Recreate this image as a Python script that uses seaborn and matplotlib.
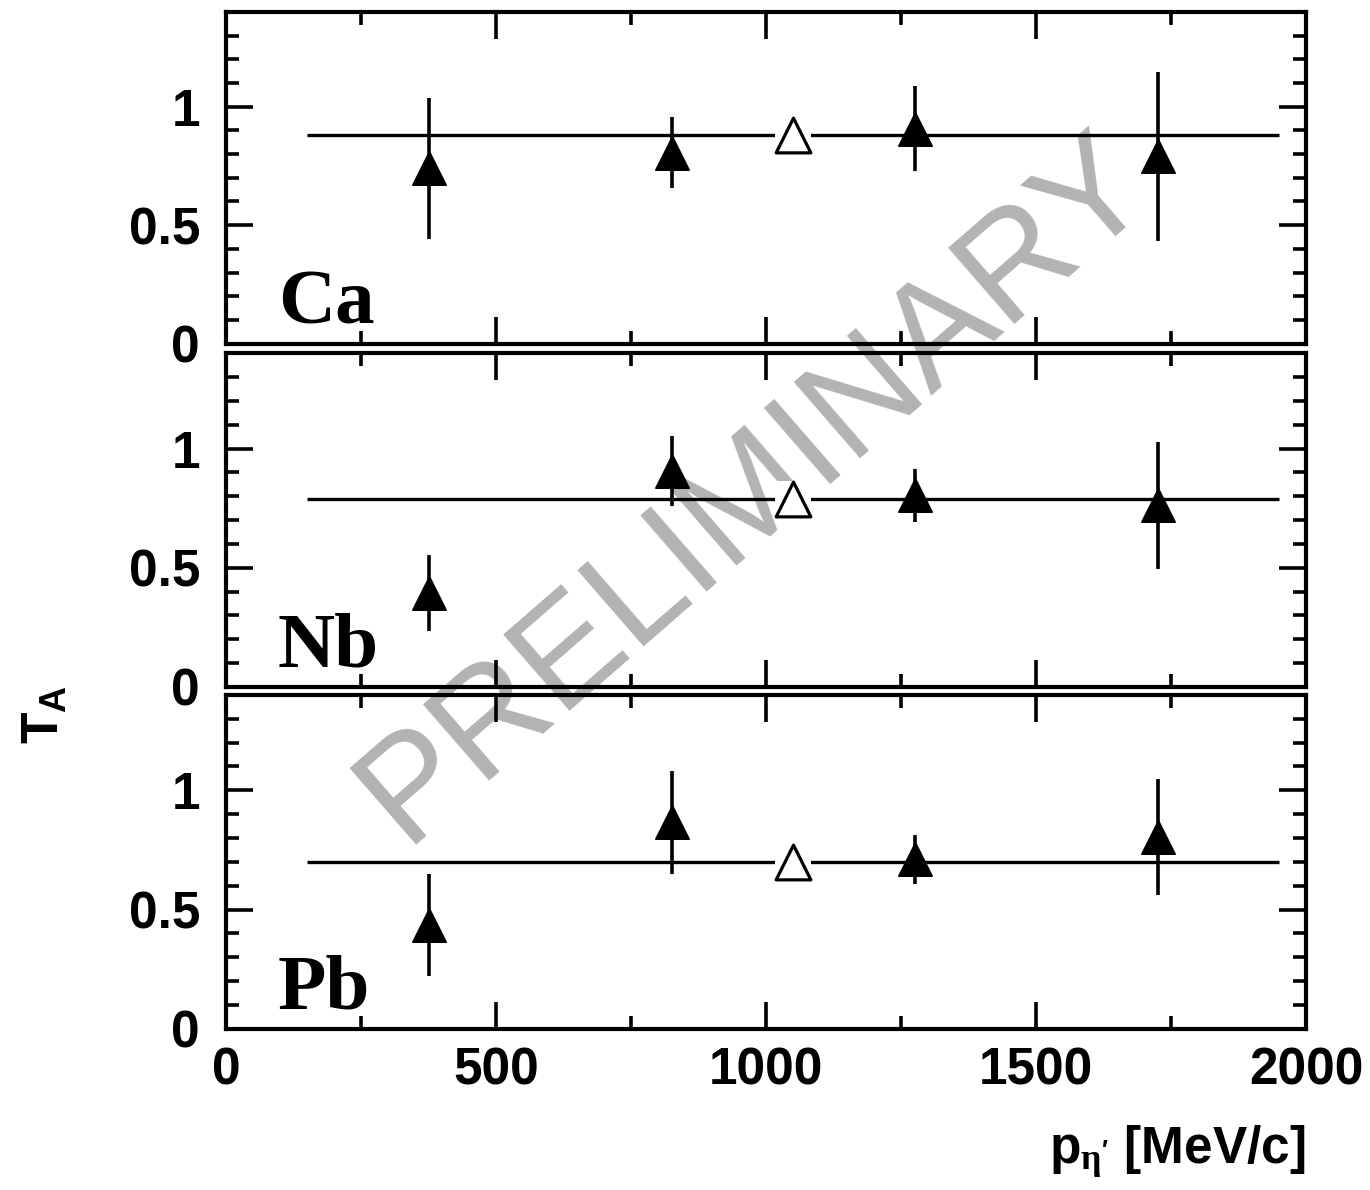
import matplotlib
matplotlib.use("Agg")
import matplotlib.pyplot as plt
import numpy as np
import pandas as pd
import seaborn as sns
from matplotlib.ticker import MultipleLocator, FuncFormatter

# Transparency ratio T_A of eta' mesons versus momentum, three target nuclei
momentum = [375, 825, 1275, 1725]        # MeV/c, bin centres
mean_momentum = 1050                     # MeV/c, position of the averaged point
fit_range = [150, 1950]                  # MeV/c, extent of the constant fit
nuclei = ["Ca", "Nb", "Pb"]
t_ca = [0.74, 0.805, 0.908, 0.79]
err_ca = [0.297, 0.15, 0.181, 0.358]
t_nb = [0.395, 0.907, 0.804, 0.762]
err_nb = [0.16, 0.148, 0.112, 0.265]
t_pb = [0.434, 0.867, 0.711, 0.806]
err_pb = [0.213, 0.216, 0.103, 0.243]
t_avg = [0.88, 0.79, 0.70]

values = {"Ca": t_ca, "Nb": t_nb, "Pb": t_pb}
errors = {"Ca": err_ca, "Nb": err_nb, "Pb": err_pb}
df = pd.DataFrame(
    [{"nucleus": n, "p": p, "T": t, "err": e}
     for n in nuclei for p, t, e in zip(momentum, values[n], errors[n])]
)
avg = pd.DataFrame({"nucleus": nuclei, "p": mean_momentum, "T": t_avg})

sns.set_theme(style="ticks")
plt.rcParams.update({
    "font.family": ["Liberation Sans", "DejaVu Sans"],
    "font.weight": "bold",
    "text.color": "black",
    "axes.labelcolor": "black",
    "xtick.color": "black",
    "ytick.color": "black",
    "xtick.labelcolor": "black",
    "ytick.labelcolor": "black",
    "mathtext.fontset": "custom",
    "mathtext.rm": "Liberation Sans:bold",
    "mathtext.bf": "Liberation Sans:bold",
    "mathtext.it": "Liberation Serif",
    "mathtext.sf": "Liberation Serif",
    "axes.linewidth": 3.0,
    "axes.edgecolor": "black",
    "figure.facecolor": "white",
    "axes.facecolor": "none",
})

fig = plt.figure(figsize=(13.7, 11.9), dpi=100)

# panel frames (figure fractions): left, bottom, width, height
left, width = 0.1653, 0.788
frames = [(0.7113, 0.2786), (0.4227, 0.2804), (0.1355, 0.2805)]

fmt = FuncFormatter(lambda v, pos: f"{v:g}")
for i, (name, (bottom, height)) in enumerate(zip(nuclei, frames)):
    ax = fig.add_axes([left, bottom, width, height])
    sub = df[df["nucleus"] == name]
    a = avg[avg["nucleus"] == name]

    # constant fit over the measured range
    ax.hlines(a["T"].iloc[0], fit_range[0], fit_range[1],
              color="black", lw=2.4, zorder=2)
    ax.errorbar(sub["p"], sub["T"], yerr=sub["err"], fmt="none",
                ecolor="black", elinewidth=2.6, capsize=0, zorder=2)
    sns.scatterplot(data=sub, x="p", y="T", marker="^", s=24 ** 2,
                    color="black", edgecolor="black", linewidth=1.2,
                    ax=ax, zorder=4, legend=False)
    # averaged value: open marker that breaks the fit line
    sns.scatterplot(data=a, x="p", y="T", marker="s", s=26 ** 2,
                    color="white", edgecolor="white", linewidth=0,
                    ax=ax, zorder=3, legend=False)
    sns.scatterplot(data=a, x="p", y="T", marker="^", s=25 ** 2,
                    color="white", edgecolor="black", linewidth=2.3,
                    ax=ax, zorder=4, legend=False)

    ax.text(95, 0.085, name, family="Liberation Serif", weight="bold",
            fontsize=57, va="baseline", ha="left", color="black", zorder=5)

    ax.set_xlim(0, 2000)
    ax.set_ylim(0, 1.4)
    ax.xaxis.set_major_locator(MultipleLocator(500))
    ax.xaxis.set_minor_locator(MultipleLocator(250))
    ax.yaxis.set_major_locator(MultipleLocator(0.5))
    ax.yaxis.set_minor_locator(MultipleLocator(0.1))
    ax.xaxis.set_major_formatter(fmt)
    ax.yaxis.set_major_formatter(fmt)
    ax.tick_params(which="both", direction="in", top=True, right=True,
                   color="black", labelcolor="black", width=2.6,
                   labelsize=37)
    ax.tick_params(which="major", length=19.5)
    ax.tick_params(which="minor", length=9.4)
    ax.tick_params(axis="y", pad=19)
    ax.tick_params(axis="x", pad=12.5)
    if i < 2:
        ax.tick_params(labelbottom=False)
    ax.set_xlabel("")
    ax.set_ylabel("")
    for s in ax.spines.values():
        s.set_visible(True)
        s.set_linewidth(3.0)
        s.set_color("black")

fig.text(0.0332, 0.3996, r"$\mathbf{T_A}$", rotation=90, ha="center",
         va="center", fontsize=37, color="black")
fig.text(0.9533, 0.0218, r"p$_{\mathsf{\eta}'}$ [MeV/c]", ha="right",
         va="baseline", fontsize=37, weight="bold", color="black")

fig.text(0.2950, 0.2899, "PRELIMINARY", rotation=41, rotation_mode="anchor",
         ha="left", va="baseline", fontsize=106, weight="normal",
         family="Liberation Sans", color="#b3b3b3", zorder=-1)

fig.savefig("out.png", dpi=100)
